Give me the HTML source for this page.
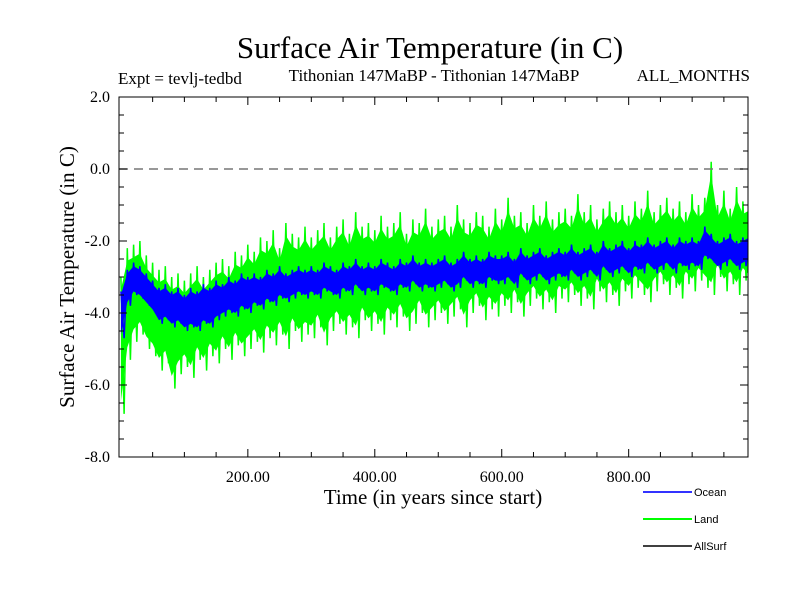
<!DOCTYPE html>
<html><head><meta charset="utf-8"><style>
body{margin:0;background:#fff;width:800px;height:600px;overflow:hidden}
svg text{font-family:"Liberation Serif",serif;fill:#000}
</style></head><body>
<svg id="chart" width="800" height="600" xmlns="http://www.w3.org/2000/svg">
<defs><clipPath id="pc"><rect x="119" y="97" width="629" height="360"/></clipPath></defs>
<text x="430" y="58" font-size="31" text-anchor="middle">Surface Air Temperature (in C)</text>
<text x="118" y="84" font-size="17">Expt = tevlj-tedbd</text>
<text x="434" y="81" font-size="17" text-anchor="middle">Tithonian 147MaBP - Tithonian 147MaBP</text>
<text x="750" y="81" font-size="17" text-anchor="end">ALL_MONTHS</text>
<text transform="translate(74,277) rotate(-90)" font-size="21" text-anchor="middle">Surface Air Temperature (in C)</text>
<text x="433" y="504" font-size="21" text-anchor="middle">Time (in years since start)</text>
<g id="series" clip-path="url(#pc)"></g>
<g id="axes"></g>
<g>
<line x1="643" y1="492" x2="692" y2="492" stroke="#3333ff" stroke-width="2"/>
<text x="694" y="496" font-size="11" style="font-family:'Liberation Sans',sans-serif">Ocean</text>
<line x1="643" y1="519" x2="692" y2="519" stroke="#00ff00" stroke-width="2"/>
<text x="694" y="523" font-size="11" style="font-family:'Liberation Sans',sans-serif">Land</text>
<line x1="643" y1="546" x2="692" y2="546" stroke="#000" stroke-width="1.5"/>
<text x="694" y="550" font-size="11" style="font-family:'Liberation Sans',sans-serif">AllSurf</text>
</g>
</svg>
<script>
const years = [];
for (let y = 0; y <= 1000; y += 10) years.push(y);
const landHi = [-3.0,-2.2,-2.1,-2.0,-2.4,-2.6,-2.8,-2.7,-3.0,-2.9,
-3.1,-2.9,-2.7,-3.0,-2.8,-2.6,-2.5,-2.7,-2.3,-2.4,
-2.1,-2.3,-1.9,-2.0,-1.7,-2.2,-1.5,-1.8,-1.9,-1.6,
-1.9,-1.7,-1.5,-1.9,-1.6,-1.4,-1.8,-1.2,-1.6,-1.5,
-1.7,-1.3,-1.6,-1.5,-1.2,-1.8,-1.4,-1.5,-1.1,-1.6,
-1.4,-1.3,-1.6,-1.0,-1.4,-1.5,-1.2,-1.3,-1.6,-1.1,
-1.4,-0.8,-1.3,-1.2,-1.5,-1.0,-1.3,-0.9,-1.4,-1.2,
-1.1,-1.3,-0.7,-1.2,-1.0,-1.4,-1.1,-0.9,-1.2,-1.0,
-1.3,-0.9,-1.1,-0.6,-1.2,-1.0,-0.8,-1.1,-0.9,-1.2,
-0.7,-1.0,-0.8,0.2,-1.0,-0.6,-1.1,-0.5,-0.9,-0.8,-0.9];
const landLo = [-6.8,-5.3,-4.8,-4.6,-5.0,-5.2,-5.6,-5.4,-6.1,-5.7,
-5.5,-5.8,-5.3,-5.6,-5.2,-5.4,-5.0,-5.3,-4.9,-5.2,
-5.0,-4.8,-5.1,-4.7,-4.9,-4.6,-5.0,-4.5,-4.8,-4.6,
-4.7,-4.4,-4.9,-4.5,-4.3,-4.6,-4.4,-4.7,-4.2,-4.5,
-4.3,-4.6,-4.2,-4.4,-4.1,-4.5,-4.3,-4.0,-4.4,-4.2,
-4.0,-4.3,-4.1,-3.9,-4.4,-4.0,-3.8,-4.2,-3.9,-4.1,
-3.8,-4.0,-3.7,-4.1,-3.8,-3.6,-3.9,-3.7,-4.0,-3.6,
-3.7,-3.5,-3.8,-3.6,-3.9,-3.4,-3.7,-3.5,-3.8,-3.4,
-3.6,-3.3,-3.5,-3.7,-3.4,-3.2,-3.5,-3.3,-3.6,-3.2,
-3.4,-3.1,-3.3,-3.5,-3.0,-3.4,-3.2,-3.5,-3.1,-3.3,-3.4];
const oceanHi = [-3.4,-2.8,-2.6,-2.7,-2.9,-3.1,-3.3,-3.2,-3.4,-3.3,
-3.5,-3.3,-3.4,-3.2,-3.3,-3.1,-3.2,-3.0,-3.1,-2.9,
-3.0,-2.9,-3.0,-2.8,-2.9,-2.7,-2.9,-2.8,-2.7,-2.8,
-2.7,-2.8,-2.6,-2.7,-2.8,-2.6,-2.7,-2.5,-2.7,-2.6,
-2.7,-2.5,-2.6,-2.7,-2.5,-2.6,-2.4,-2.6,-2.5,-2.6,
-2.5,-2.4,-2.6,-2.5,-2.3,-2.5,-2.4,-2.5,-2.3,-2.4,
-2.4,-2.3,-2.5,-2.2,-2.4,-2.3,-2.2,-2.4,-2.3,-2.2,
-2.3,-2.1,-2.3,-2.2,-2.1,-2.3,-2.0,-2.2,-2.1,-2.0,
-2.2,-2.0,-2.1,-1.9,-2.1,-2.0,-1.9,-2.1,-1.9,-2.0,
-1.9,-2.0,-1.6,-1.8,-2.0,-1.9,-1.8,-2.0,-1.9,-1.8,-1.9];
const oceanLo = [-4.7,-3.8,-3.5,-3.6,-3.8,-4.0,-4.3,-4.2,-4.4,-4.3,
-4.5,-4.4,-4.5,-4.3,-4.4,-4.2,-4.1,-4.0,-4.1,-3.9,
-4.0,-3.8,-3.9,-3.7,-3.8,-3.6,-3.7,-3.6,-3.5,-3.6,
-3.5,-3.6,-3.4,-3.5,-3.6,-3.4,-3.5,-3.3,-3.5,-3.4,
-3.5,-3.3,-3.4,-3.5,-3.3,-3.4,-3.2,-3.4,-3.3,-3.4,
-3.3,-3.2,-3.4,-3.3,-3.1,-3.3,-3.2,-3.3,-3.1,-3.2,
-3.2,-3.1,-3.3,-3.0,-3.2,-3.1,-3.0,-3.2,-3.1,-3.0,
-3.1,-2.9,-3.1,-3.0,-2.9,-3.1,-2.8,-3.0,-2.9,-2.8,
-3.0,-2.8,-2.9,-2.7,-2.9,-2.8,-2.7,-2.9,-2.7,-2.8,
-2.7,-2.8,-2.5,-2.6,-2.8,-2.7,-2.6,-2.8,-2.7,-2.6,-2.7];
const xTicks = [200, 400, 600, 800];
const xTickLabels = ["200.00", "400.00", "600.00", "800.00"];
const yTicks = [2, 0, -2, -4, -6, -8];
const yTickLabels = ["2.0", "0.0", "-2.0", "-4.0", "-6.0", "-8.0"];

const L = 119, R = 748, T = 97, B = 457;
const XMIN = -3, XMAX = 988, YMIN = -8, YMAX = 2;
const sx = v => L + (v - XMIN) / (XMAX - XMIN) * (R - L);
const sy = v => B - (v - YMIN) / (YMAX - YMIN) * (B - T);
const NS = "http://www.w3.org/2000/svg";
function mk(tag, parent) { const e = document.createElementNS(NS, tag); parent.appendChild(e); return e; }
const sg = document.getElementById('series');
const ag = document.getElementById('axes');

function band(hi, lo, inset, color, name) {
  const top = years.map((y, i) => sx(y).toFixed(1) + ',' + sy(hi[i] - inset).toFixed(1));
  const bot = years.map((y, i) => sx(y).toFixed(1) + ',' + sy(lo[i] + inset).toFixed(1)).reverse();
  const p = mk('polygon', sg);
  
  
  p.setAttribute('points', top.concat(bot).join(' '));
  p.setAttribute('fill', color);
}
function zig(hi, lo, color, name, w) {
  let pts = [];
  for (let i = 0; i < years.length; i++) {
    pts.push(sx(years[i]).toFixed(1) + ',' + sy(hi[i]).toFixed(1));
    if (i < years.length - 1) pts.push(sx(years[i] + 5).toFixed(1) + ',' + sy(lo[i]).toFixed(1));
  }
  const p = mk('polyline', sg);
  
  
  p.setAttribute('points', pts.join(' '));
  p.setAttribute('fill', 'none');
  p.setAttribute('stroke', color);
  p.setAttribute('stroke-width', w);
}
band(landHi, landLo, 0.35, '#00ff00', 'land-band');
zig(landHi, landLo, '#00ff00', 'land-series', 1.5);
band(oceanHi, oceanLo, 0.1, '#0000ff', 'ocean-band');
zig(oceanHi, oceanLo, '#0000ff', 'ocean-series', 1.5);

const zl = mk('line', ag);


zl.setAttribute('x1', L); zl.setAttribute('x2', R);
zl.setAttribute('y1', sy(0)); zl.setAttribute('y2', sy(0));
zl.setAttribute('stroke', '#777'); zl.setAttribute('stroke-width', '1.5');
zl.setAttribute('stroke-dasharray', '9,6');

const fr = mk('rect', ag);


fr.setAttribute('x', L); fr.setAttribute('y', T);
fr.setAttribute('width', R - L); fr.setAttribute('height', B - T);
fr.setAttribute('fill', 'none'); fr.setAttribute('stroke', '#000'); fr.setAttribute('stroke-width', '1');

function tick(x1, y1, x2, y2) {
  const t = mk('line', ag);
  
  
  t.setAttribute('x1', x1); t.setAttribute('y1', y1); t.setAttribute('x2', x2); t.setAttribute('y2', y2);
  t.setAttribute('stroke', '#000'); t.setAttribute('stroke-width', '1');
}
for (let v = 50; v < XMAX; v += 50) {
  const big = v % 200 === 0, len = big ? 8 : 5;
  tick(sx(v), B, sx(v), B - len); tick(sx(v), T, sx(v), T + len);
}
for (let v = -7.5; v < 2; v += 0.5) {
  const big = Math.abs(v % 2) < 1e-9, len = big ? 8 : 5;
  tick(L, sy(v), L + len, sy(v)); tick(R, sy(v), R - len, sy(v));
}
xTicks.forEach((v, i) => {
  const t = mk('text', ag);
  
  
  t.setAttribute('x', sx(v)); t.setAttribute('y', B + 25);
  t.setAttribute('font-size', '16'); t.setAttribute('text-anchor', 'middle');
  t.textContent = xTickLabels[i];
});
yTicks.forEach((v, i) => {
  const t = mk('text', ag);
  
  
  t.setAttribute('x', L - 9); t.setAttribute('y', sy(v) + 5);
  t.setAttribute('font-size', '16'); t.setAttribute('text-anchor', 'end');
  t.textContent = yTickLabels[i];
});
</script>
</body></html>
